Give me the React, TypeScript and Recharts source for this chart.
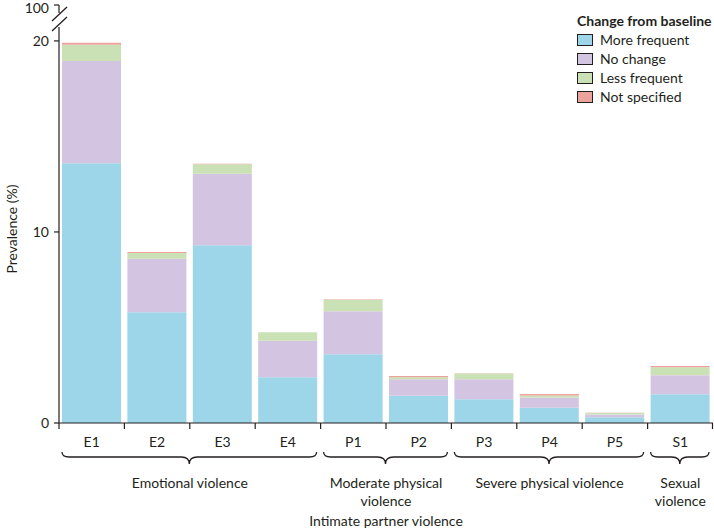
import React from "react";
import { BarChart, Bar, XAxis, YAxis } from "recharts";

// categories and stacked values (%)
const categories = ["E1", "E2", "E3", "E4", "P1", "P2", "P3", "P4", "P5", "S1"];
const moreFrequent = [13.6, 5.8, 9.3, 2.4, 3.6, 1.43, 1.24, 0.8, 0.3, 1.5];
const noChange = [5.35, 2.8, 3.75, 1.9, 2.25, 0.86, 1.05, 0.54, 0.15, 1.0];
const lessFrequent = [0.85, 0.3, 0.5, 0.45, 0.6, 0.1, 0.3, 0.1, 0.07, 0.42];
const notSpecified = [0.1, 0.05, 0.02, 0, 0.03, 0.07, 0.02, 0.08, 0.02, 0.06];

const yTicks = [0, 10, 20];
const breakLabel = "100";

const groups = [
  { lines: ["Emotional violence"], first: 0, count: 4 },
  { lines: ["Moderate physical", "violence"], first: 4, count: 2 },
  { lines: ["Severe physical violence"], first: 6, count: 3 },
  { lines: ["Sexual", "violence"], first: 9, count: 1 },
];

const xTitle = "Intimate partner violence";
const yTitle = "Prevalence (%)";
const legendTitle = "Change from baseline";

const series = [
  { key: "more", name: "More frequent", values: moreFrequent, color: "#9dd6e8" },
  { key: "same", name: "No change", values: noChange, color: "#d3c5e2" },
  { key: "less", name: "Less frequent", values: lessFrequent, color: "#c9e1b5" },
  { key: "ns", name: "Not specified", values: notSpecified, color: "#eba39b" },
];

const data = categories.map((c, i) => {
  const row: Record<string, number | string> = { name: c };
  series.forEach((s) => (row[s.key] = s.values[i]));
  return row;
});

// layout
const W = 714;
const H = 530;
const Y_AXIS_W = 59;
const RIGHT = 1;
const TOP = 5;
const X_AXIS_H = 107;
const AXIS_Y = H - X_AXIS_H;
const BAND = (W - Y_AXIS_W - RIGHT) / categories.length;
const BREAK_AT = 21.88; // where "100" sits on the compressed scale
const INK = "#231f20";
const FONT = "Lato, 'Open Sans', sans-serif";

const Brace = ({ x0, x1 }: { x0: number; x1: number }) => {
  const cx = (x0 + x1) / 2;
  const y0 = AXIS_Y + 29;
  const y1 = AXIS_Y + 34;
  const tip = AXIS_Y + 41;
  const d = `M${x0},${y0} Q${x0},${y1} ${x0 + 7},${y1} L${cx - 8},${y1} Q${cx},${y1} ${cx},${tip} Q${cx},${y1} ${cx + 8},${y1} L${x1 - 7},${y1} Q${x1},${y1} ${x1},${y0}`;
  return <path d={d} fill="none" stroke={INK} strokeWidth={1.3} />;
};

const CategoryTick = (props: any) => {
  const { x, payload } = props;
  const i = payload.index;
  const left = x - BAND / 2;
  const group = groups.find((g) => g.first === i);
  return (
    <g>
      <line x1={left} x2={left} y1={AXIS_Y} y2={AXIS_Y + 6} stroke={INK} strokeWidth={1.2} />
      {i === categories.length - 1 && (
        <line x1={left + BAND - 0.5} x2={left + BAND - 0.5} y1={AXIS_Y} y2={AXIS_Y + 6} stroke={INK} strokeWidth={1.2} />
      )}
      <text x={x} y={AXIS_Y + 18} textAnchor="middle" dominantBaseline="central" fontSize={14} fill={INK} fontFamily={FONT}>
        {payload.value}
      </text>
      {group && (
        <g>
          <Brace x0={left + 3} x1={left + BAND * group.count - 4} />
          {group.lines.map((ln, k) => (
            <text
              key={k}
              x={left + (BAND * group.count) / 2}
              y={AXIS_Y + 59 + k * 18}
              textAnchor="middle"
              dominantBaseline="central"
              fontSize={14}
              fill={INK}
              fontFamily={FONT}
            >
              {ln}
            </text>
          ))}
        </g>
      )}
      {i === 0 && (
        <text
          x={Y_AXIS_W + (W - Y_AXIS_W - RIGHT) / 2}
          y={AXIS_Y + 97}
          textAnchor="middle"
          dominantBaseline="central"
          fontSize={14}
          fill={INK}
          fontFamily={FONT}
        >
          {xTitle}
        </text>
      )}
    </g>
  );
};

const YTitle = () => (
  <text
    x={11}
    y={229}
    transform="rotate(-90 11 229)"
    textAnchor="middle"
    dominantBaseline="central"
    fontSize={14}
    fill={INK}
    fontFamily={FONT}
  >
    {yTitle}
  </text>
);

export default function App() {
  return (
    <div style={{ position: "absolute", left: 0, top: 0, width: W, height: H, background: "#fff", fontFamily: FONT }}>
      <BarChart width={W} height={H} data={data} margin={{ top: TOP, right: RIGHT, left: 0, bottom: 0 }} barCategoryGap={3}>
        <XAxis
          dataKey="name"
          height={X_AXIS_H}
          interval={0}
          tickLine={false}
          axisLine={{ stroke: INK, strokeWidth: 1.2 }}
          tick={<CategoryTick />}
        />
        <YAxis
          width={Y_AXIS_W}
          domain={[0, BREAK_AT]}
          ticks={[...yTicks, BREAK_AT]}
          tickFormatter={(v: number) => (v > 20 ? breakLabel : String(v))}
          allowDataOverflow
          tickSize={5}
          tickMargin={5}
          axisLine={{ stroke: INK, strokeWidth: 1.2 }}
          tickLine={{ stroke: INK, strokeWidth: 1.2 }}
          tick={{ fill: INK, fontSize: 14, fontFamily: FONT }}
          label={{ content: () => <YTitle /> }}
        />
        {series.map((s) => (
          <Bar key={s.key} dataKey={s.key} name={s.name} stackId="a" fill={s.color} isAnimationActive={false} />
        ))}
      </BarChart>

      {/* axis break marks */}
      <svg width={W} height={H} style={{ position: "absolute", left: 0, top: 0, pointerEvents: "none" }}>
        <rect x={Y_AXIS_W - 3} y={13} width={6} height={14} fill="#fff" />
        <line x1={52} y1={21} x2={67} y2={7} stroke={INK} strokeWidth={1.3} />
        <line x1={52} y1={31} x2={67} y2={17} stroke={INK} strokeWidth={1.3} />
      </svg>

      {/* legend */}
      <div style={{ position: "absolute", left: 577, top: 11, color: INK, fontSize: 14, lineHeight: "19px" }}>
        <div style={{ fontWeight: 700 }}>{legendTitle}</div>
        {series.map((s) => (
          <div key={s.key} style={{ display: "flex", alignItems: "center" }}>
            <span
              style={{
                display: "inline-block",
                width: 14,
                height: 10,
                background: s.color,
                border: `1.2px solid ${INK}`,
                marginRight: 7,
              }}
            />
            {s.name}
          </div>
        ))}
      </div>
    </div>
  );
}
